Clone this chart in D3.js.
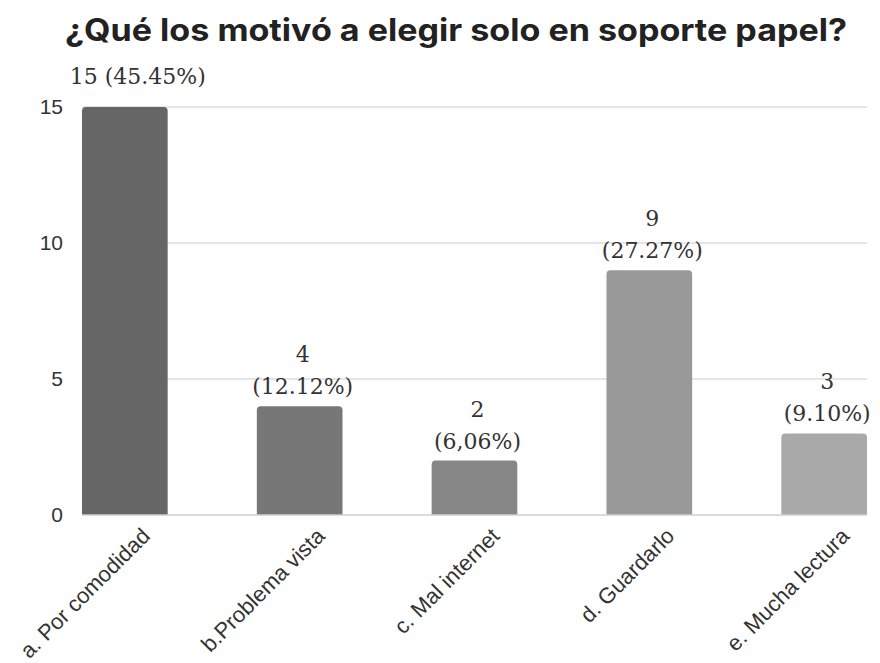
<!DOCTYPE html>
<html>
<head>
<meta charset="utf-8">
<script src="https://cdn.jsdelivr.net/npm/d3@7"></script>
<style>
  html, body { margin: 0; padding: 0; background: #fff; }
  svg { display: block; }
</style>
</head>
<body>
<div id="chart"></div>
<script>
const title = "¿Qué los motivó a elegir solo en soporte papel?";
const categories = ["a. Por comodidad", "b.Problema vista", "c. Mal internet", "d. Guardarlo", "e. Mucha lectura"];
const values = [15, 4, 2, 9, 3];
const valueLabels = [["15 (45.45%)"], ["4", "(12.12%)"], ["2", "(6,06%)"], ["9", "(27.27%)"], ["3", "(9.10%)"]];
const yTicks = [0, 5, 10, 15];
const barColors = ["#666666", "#777777", "#878787", "#999999", "#a9a9a9"];

const W = 880, H = 663;
const svg = d3.select("#chart").append("svg").attr("width", W).attr("height", H);

const x = d3.scaleBand().domain(categories).range([82, 867]).paddingInner(0.51).paddingOuter(0);
const y = d3.scaleLinear().domain([0, 15]).range([515, 107]);

// title
svg.append("text")
  .attr("x", 65).attr("y", 41)
  .attr("text-anchor", "start")
  .attr("font-family", "Inter, Roboto, 'Liberation Sans', sans-serif")
  .attr("font-weight", 700)
  .attr("font-size", 31)
  .attr("textLength", 782)
  .attr("lengthAdjust", "spacingAndGlyphs")
  .attr("fill", "#222")
  .text(title);

// gridlines
svg.append("g").selectAll("line").data(yTicks.filter(d => d > 0)).join("line")
  .attr("x1", 82).attr("x2", 867)
  .attr("y1", d => y(d)).attr("y2", d => y(d))
  .attr("stroke", "#dcdcdc").attr("stroke-width", 1.3);

// y axis labels
const yAxis = d3.axisLeft(y).tickValues(yTicks).tickSize(0).tickPadding(0);
const yg = svg.append("g").attr("transform", "translate(63,0)").call(yAxis);
yg.select(".domain").remove();
yg.selectAll("text")
  .attr("font-family", "'Liberation Sans', Arial, sans-serif")
  .attr("font-size", 21)
  .attr("fill", "#333");

// bars with rounded top corners
const r = 4;
svg.append("g").selectAll("path").data(categories).join("path")
  .attr("d", (c, i) => {
    const x0 = x(c), x1 = x(c) + x.bandwidth(), yt = y(values[i]), yb = y(0);
    return `M${x0},${yb}V${yt + r}Q${x0},${yt} ${x0 + r},${yt}H${x1 - r}Q${x1},${yt} ${x1},${yt + r}V${yb}Z`;
  })
  .attr("fill", (c, i) => barColors[i]);

// baseline
svg.append("line")
  .attr("x1", 82).attr("x2", 867)
  .attr("y1", y(0)).attr("y2", y(0))
  .attr("stroke", "#cfcfcf").attr("stroke-width", 1.3);

// value labels
const lg = svg.append("g")
  .attr("font-family", "'DejaVu Serif', Georgia, serif")
  .attr("font-size", 22)
  .attr("fill", "#333")
  .attr("text-anchor", "middle");
categories.forEach((c, i) => {
  const lines = valueLabels[i];
  const cx = x(c) + x.bandwidth() / 2;
  const top = y(values[i]);
  if (lines.length === 1) {
    lg.append("text").attr("x", cx + 13).attr("y", top - 23).text(lines[0]);
  } else {
    lines.forEach((t, j) => {
      lg.append("text").attr("x", cx + 3).attr("y", top - 12 - (lines.length - 1 - j) * 32).text(t);
    });
  }
});

// x axis labels
const xg = svg.append("g");
categories.forEach((c) => {
  const cx = x(c) + x.bandwidth() / 2;
  xg.append("text")
    .attr("transform", `translate(${cx + 21},532) rotate(-45)`)
    .attr("text-anchor", "end")
    .attr("dy", "0.35em")
    .attr("font-family", "'Liberation Sans', Arial, sans-serif")
    .attr("font-size", 22)
    .attr("fill", "#333")
    .text(c);
});
</script>
</body>
</html>
